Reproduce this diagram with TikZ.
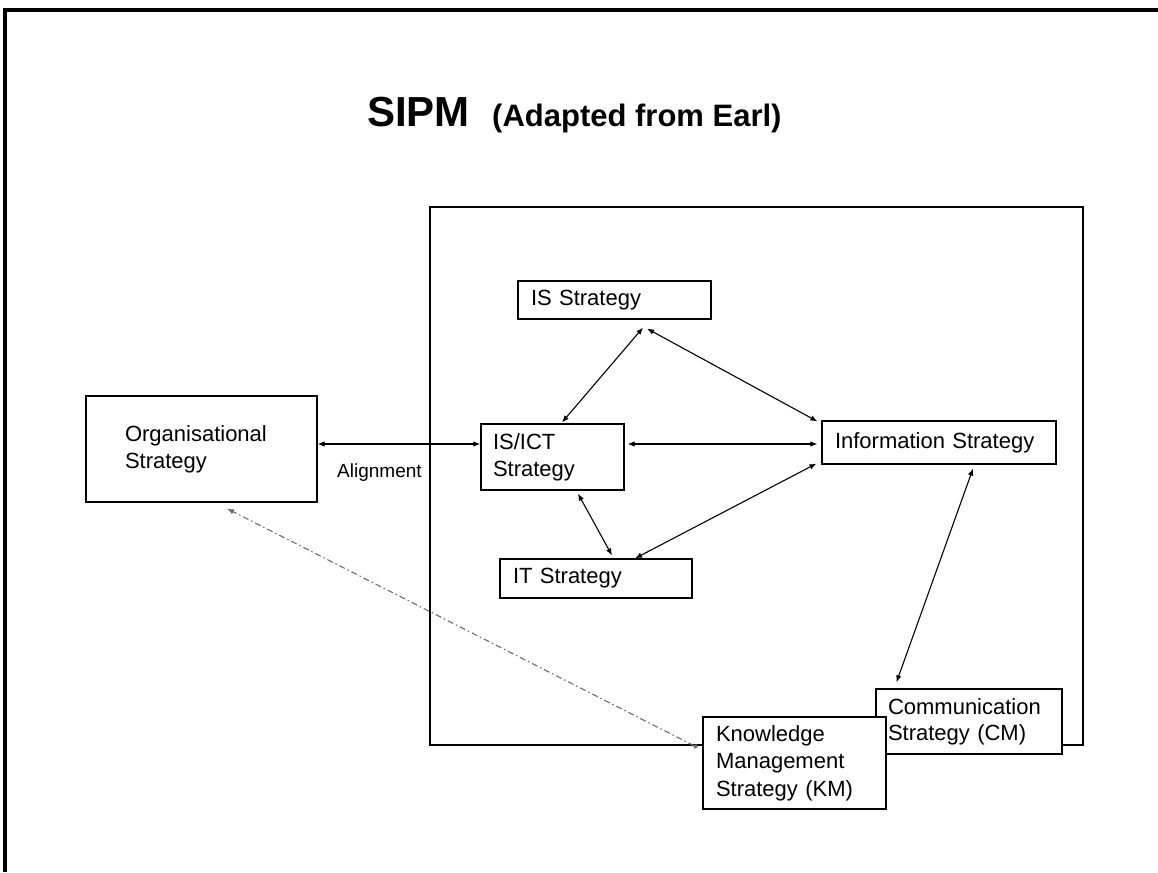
\documentclass[tikz,border=0pt]{standalone}
\usepackage{fontspec}
\setmainfont{Liberation Sans}
\usetikzlibrary{arrows.meta,calc}

\begin{document}
\begin{tikzpicture}[x=1pt,y=-1pt,
  box/.style={draw, fill=white, line width=1.2pt, inner ysep=0pt, align=left,
              font=\fontsize{22}{27}\selectfont},
  tip/.style={Latex[length=7pt,width=5.5pt]},
  link/.style={line width=1.1pt, {Latex[length=7pt,width=5.5pt]}-{Latex[length=7pt,width=5.5pt]}},
  hint/.style={line width=1.1pt, gray!85!black, dash pattern=on 6pt off 3pt on 1.5pt off 3pt,
               {Circle[length=4.5pt]}-{Latex[length=7pt,width=5.5pt]}},
]
\useasboundingbox (0,0) rectangle (1158,872);
\fill[white] (0,0) rectangle (1158,872);

% page frame: heavy rule along the top and left edges
\draw[line width=4pt] (4.5,872) -- (4.5,10) -- (1158,10);

% heading
\node[anchor=base west, inner sep=0pt, font=\bfseries\fontsize{42}{50}\selectfont] (title) at (367,126) {SIPM};
\node[anchor=base west, inner sep=0pt, font=\bfseries\fontsize{31}{37}\selectfont] (subtitle) at (492,126) {(Adapted from Earl)};

% enclosing frame of the IS/ICT strategies
\node[draw, line width=1.2pt, minimum width=653pt, minimum height=538pt, inner sep=0pt] (frame) at (756.5,476) {};

% strategy boxes
\node[box, minimum width=231pt, minimum height=106pt, text width=153pt, inner xsep=39pt] (org) at (201.5,449) {Organisational\\Strategy};
\node[box, minimum width=193pt, minimum height=38pt, text width=167pt, inner xsep=13pt] (is) at (614.5,300) {IS Strategy};
\node[box, minimum width=143pt, minimum height=66pt, text width=119pt, inner xsep=12pt] (isict) at (552.5,457) {IS/ICT\\Strategy};
\node[box, minimum width=192pt, minimum height=39pt, text width=166pt, inner xsep=13pt] (it) at (596,578.5) {IT Strategy};
\node[box, minimum width=234pt, minimum height=43pt, text width=208pt, inner xsep=13pt] (info) at (939,442.5) {Information Strategy};
\node[box, minimum width=186pt, minimum height=65pt, text width=162pt, inner xsep=12pt, font=\fontsize{22}{26}\selectfont] (comm) at (969,721.5) {Communication\\Strategy (CM)};
\node[box, minimum width=183pt, minimum height=92pt, text width=157pt, inner xsep=13pt, font=\fontsize{22}{27.5}\selectfont] (km) at (794.5,763) {Knowledge\\Management\\Strategy (KM)};

% alignment between organisational and IS/ICT strategy
\draw[link] ($(org.east)+(0,-5)$) -- ($(org.east -| isict.west)+(0,-5)$);
\node[anchor=base west, inner sep=0pt, font=\fontsize{19}{23}\selectfont] (alignlabel) at (337,477) {Alignment};

% links inside the frame
\draw[link] ($(is.south)+(28.5,8)$) -- ($(isict.north)+(9.5,-1)$);
\draw[link] ($(is.south)+(32.5,9)$) -- ($(info.north west)+(-4,1)$);
\draw[link] ($(info.west -| isict.east)+(3,1.5)$) -- ($(info.west)+(-4,1.5)$);
\draw[link] ($(isict.south)+(25.5,3)$) -- ($(it.north)+(16,-3)$);
\draw[link] ($(info.south west)+(-5,-1)$) -- ($(it.north)+(39,0)$);
\draw[link] ($(info.south)+(34,4)$) -- ($(comm.north west)+(21,-6)$);

% knowledge management feeding back to the organisation
\draw[hint] ($(km.north west)+(-5,31)$) -- ($(org.south)+(25.5,6)$);
\end{tikzpicture}
\end{document}
